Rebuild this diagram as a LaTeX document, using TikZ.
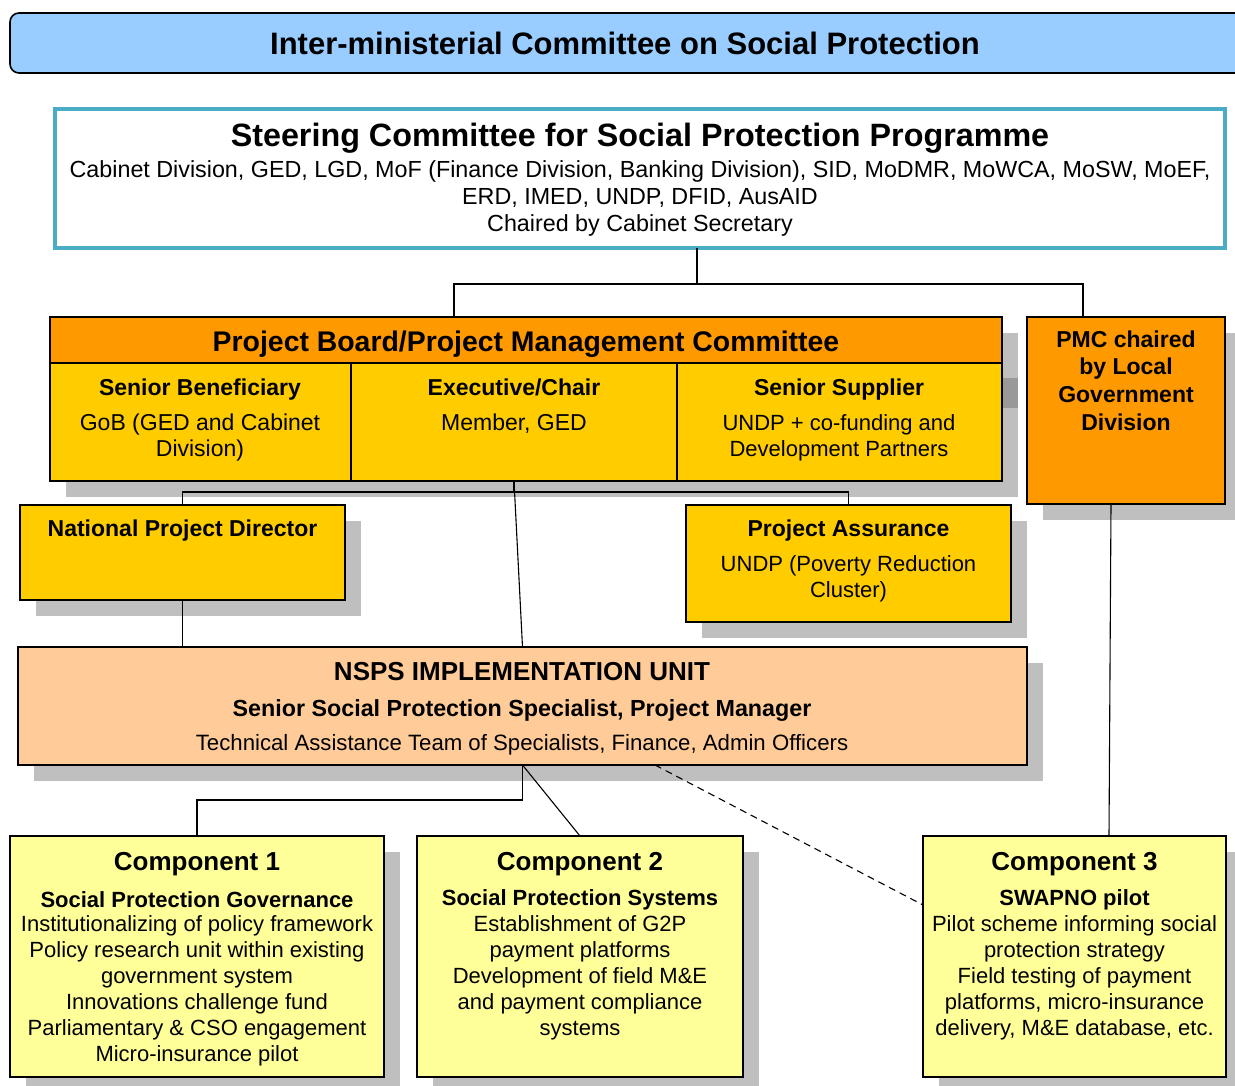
\documentclass[tikz,border=0pt]{standalone}
\usepackage{fontspec}
\setmainfont{Liberation Sans}
\usetikzlibrary{shadows}
\definecolor{banner}{HTML}{99CCFF}
\definecolor{steerteal}{HTML}{4BACC6}
\definecolor{boardorange}{HTML}{FF9900}
\definecolor{gold}{HTML}{FFCC00}
\definecolor{peach}{HTML}{FFCC99}
\definecolor{paleyellow}{HTML}{FFFF99}
\definecolor{shadowgray}{HTML}{BFBFBF}
\newcommand{\fsz}[2]{\fontsize{#1}{#2}\selectfont}

\begin{document}
\begin{tikzpicture}[x=1pt,y=-1pt,
  box/.style={rectangle, draw=black, line width=1.6pt, inner sep=0pt, outer sep=0pt},
  shade/.style={drop shadow={shadow xshift=16pt, shadow yshift=-16pt, fill=shadowgray, opacity=1}},
  link/.style={draw=black, line width=1.1pt},
  txt/.style={align=center, inner sep=0pt, font=\fsz{22}{26}}]
\useasboundingbox (0,0) rectangle (1235,1086);
\clip (0,0) rectangle (1235,1086);

\node[box, rounded corners=9pt, fill=banner, minimum width=1240pt, minimum height=60pt] (imc) at (630,43) {};
\node[txt, font=\fsz{31}{36}\bfseries] (imctitle) at (625,43) {Inter-ministerial Committee on Social Protection};

\node[box, draw=steerteal, line width=4.5pt, fill=white, minimum width=1170pt, minimum height=139pt] (steer) at (640,178.5) {};
\node[txt, font=\fsz{32.3}{36}\bfseries] (steertitle) at (640,138) {Steering Committee for Social Protection Programme};
\node[txt, font=\fsz{23.3}{27}] (steerbody) at (640,198) {Cabinet Division, GED, LGD, MoF (Finance Division, Banking Division), SID, MoDMR, MoWCA, MoSW, MoEF,\\ERD, IMED, UNDP, DFID, AusAID\\Chaired by Cabinet Secretary};

\node[box, shade, fill=gold, minimum width=952pt, minimum height=164pt] (board) at (526,399) {};
\fill[black!40] (1003,378) rectangle (1018,408);
\node[box, fill=boardorange, minimum width=952pt, minimum height=46pt] (header) at (526,340) {};
\node[box, fill=gold, minimum width=301pt, minimum height=118pt] (benef) at (200.5,422) {};
\node[box, fill=gold, minimum width=326pt, minimum height=118pt] (exec) at (514,422) {};
\node[box, fill=gold, minimum width=325pt, minimum height=118pt] (supp) at (839.5,422) {};
\node[txt, font=\fsz{28.4}{32}\bfseries] (headertitle) at (526,344) {Project Board/Project Management Committee};
\node[txt, font=\fsz{23}{26}\bfseries] (beneftitle) at (200,390) {Senior Beneficiary};
\node[txt, font=\fsz{23}{26}] (benefbody) at (200,438) {GoB (GED and Cabinet\\Division)};
\node[txt, font=\fsz{23}{26}\bfseries] (exectitle) at (514,387) {Executive/Chair};
\node[txt, font=\fsz{23}{26}] (execbody) at (514,424) {Member, GED};
\node[txt, font=\fsz{23}{26}\bfseries] (supptitle) at (839,390) {Senior Supplier};
\node[txt, font=\fsz{22}{26}] (suppbody) at (839,438) {UNDP + co-funding and\\Development Partners};

\node[box, shade, fill=boardorange, minimum width=198pt, minimum height=187pt] (pmc) at (1126,410.5) {};
\node[txt, font=\fsz{23}{27.7}\bfseries] (pmctext) at (1126,380.5) {PMC chaired\\by Local\\Government\\Division};

\node[box, shade, fill=gold, minimum width=325pt, minimum height=95pt] (npd) at (182.5,552.5) {};
\node[txt, font=\fsz{23}{26}\bfseries] (npdtitle) at (182.5,531) {National Project Director};
\node[box, shade, fill=gold, minimum width=325pt, minimum height=117pt] (pa) at (848.5,563.5) {};
\node[txt, font=\fsz{23}{26}\bfseries] (patitle) at (848.5,531) {Project Assurance};
\node[txt, font=\fsz{22}{26}] (pabody) at (848.5,579) {UNDP (Poverty Reduction\\Cluster)};

\node[box, shade, fill=peach, minimum width=1009pt, minimum height=118pt] (nsps) at (522.5,706) {};
\node[txt, font=\fsz{26}{30}\bfseries] (nspstitle) at (522,672) {NSPS IMPLEMENTATION UNIT};
\node[txt, font=\fsz{23.3}{26}\bfseries] (nspsstaff) at (522,711) {Senior Social Protection Specialist, Project Manager};
\node[txt, font=\fsz{22.2}{26}] (nspsteam) at (522,745) {Technical Assistance Team of Specialists, Finance, Admin Officers};

\foreach \n/\cx/\w in {1/197/374, 2/580/326, 3/1074.5/303}{
  \node[box, shade, fill=paleyellow, minimum width=\w pt, minimum height=241pt] (comp\n) at (\cx,956.5) {};
  \node[txt, font=\fsz{26}{30}\bfseries] (comptitle\n) at (\cx,864) {Component \n};
}
\node[txt, font=\fsz{22}{26}\bfseries] (compsub1) at (197,900) {Social Protection Governance};
\node[txt] (compbody1) at (197,990.5) {Institutionalizing of policy framework\\Policy research unit within existing\\government system\\Innovations challenge fund\\Parliamentary \& CSO engagement\\Micro-insurance pilot};
\node[txt, font=\fsz{22}{26}\bfseries] (compsub2) at (580,900) {Social Protection Systems};
\node[txt] (compbody2) at (580,977.5) {Establishment of G2P\\payment platforms\\Development of field M\&E\\and payment compliance\\systems};
\node[txt, font=\fsz{22}{26}\bfseries] (compsub3) at (1074.5,900) {SWAPNO pilot};
\node[txt] (compbody3) at (1074.5,977.5) {Pilot scheme informing social\\protection strategy\\Field testing of payment\\platforms, micro-insurance\\delivery, M\&E database, etc.};

\coordinate (j1) at (697,284);
\coordinate (pbtop) at (454,317);
\coordinate (pmctop) at (1083,317);
\draw[link] (j1 |- steer.south) -- (j1);
\draw[link] (pbtop) |- (j1) -| (pmctop);
\coordinate (j2) at (514,492);
\draw[link] (exec.south) -- (j2);
\draw[link] (npd.north) |- (j2) -| (pa.north);
\draw[link] (exec.south) -- (nsps.north);
\draw[link] (npd.south) -- (npd.south |- nsps.north);
\coordinate (j3) at (522.5,800);
\draw[link] (nsps.south) -- (j3) -| (comp1.north);
\draw[link] (nsps.south) -- (comp2.north);
\coordinate (dashA) at (655,765);
\coordinate (dashB) at (923,905);
\draw[link, dash pattern=on 7pt off 5pt] (dashA) -- (dashB);
\coordinate (pmcA) at (1111,504);
\coordinate (pmcB) at (1109,836);
\draw[link] (pmcA) -- (pmcB);
\end{tikzpicture}
\end{document}
